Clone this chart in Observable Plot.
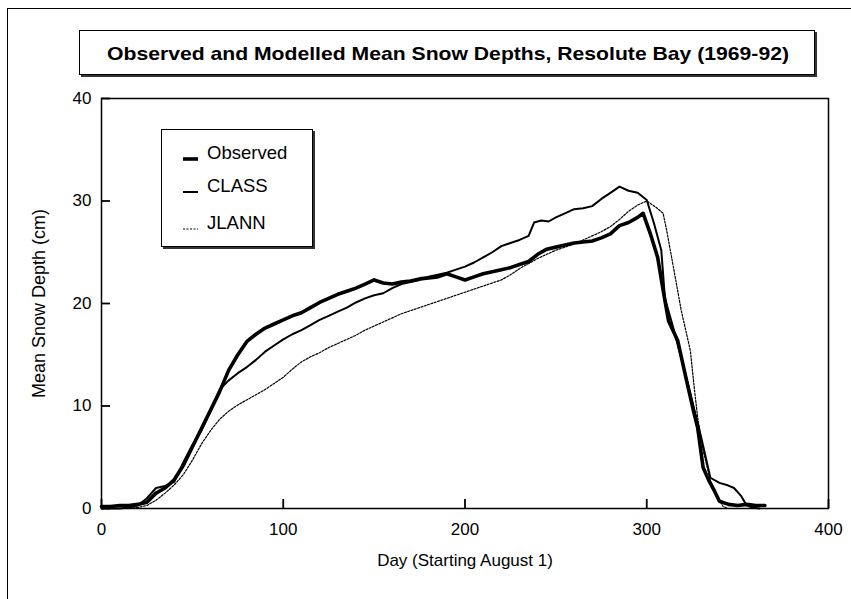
<!DOCTYPE html>
<html><head><meta charset="utf-8">
<script src="https://cdn.jsdelivr.net/npm/d3@7"></script>
<script src="https://cdn.jsdelivr.net/npm/@observablehq/plot@0.6"></script>
<style>
body{margin:0;background:#fff;}
#wrap{position:relative;width:851px;height:599px;overflow:hidden;font-family:"Liberation Sans",Arial,sans-serif;color:#000;}
#chart{position:absolute;left:0;top:0;}
#outer{position:absolute;left:7px;top:8px;width:900px;height:700px;border:1.5px solid #000;pointer-events:none;}
#title{position:absolute;left:79px;top:30px;width:734px;height:43px;border:1px solid #000;box-shadow:2px 2px 0 #333;background:#fff;}
#legend{position:absolute;left:161px;top:129px;width:150px;height:116px;border:1px solid #000;box-shadow:2px 2px 0 #333;background:#fff;}
.row{position:absolute;left:0;width:150px;height:22px;}
.row span{position:absolute;left:45px;top:0;font-size:18.5px;line-height:22px;}
.row svg{position:absolute;left:21px;top:0;}
</style>
</head><body>
<div id="wrap">
  <div id="outer"></div>
  <div id="chart"></div>
  <div id="title"><svg width="734" height="43"><text id="ttext" x="368" y="29" text-anchor="middle" font-family="Liberation Sans, Arial, sans-serif" font-weight="bold" font-size="19" textLength="682" lengthAdjust="spacingAndGlyphs"></text></svg></div>
  <div id="legend"></div>
</div>
<script>
const titleText = "Observed and Modelled Mean Snow Depths, Resolute Bay (1969-92)";
const xLabel = "Day (Starting August 1)";
const yLabel = "Mean Snow Depth (cm)";
const xTicks = [0, 100, 200, 300, 400];
const yTicks = [0, 10, 20, 30, 40];
const seriesNames = ["Observed", "CLASS", "JLANN"];

const observedDay = [0,5,10,15,20,25,30,35,40,45,50,55,60,65,70,75,80,85,90,95,100,105,110,115,120,125,130,135,140,145,150,155,160,165,170,175,180,185,190,195,200,205,210,215,220,225,230,235,240,245,250,255,260,265,270,275,280,285,290,295,298,302,306,309,312,317,322,326,328,331,334,337,340,345,350,355,360,365];
const observedDepth = [0.2,0.2,0.3,0.3,0.4,0.6,1.5,2.0,2.8,4.2,6.0,7.8,9.6,11.4,13.5,15.0,16.3,17.0,17.6,18.0,18.4,18.8,19.1,19.6,20.1,20.5,20.9,21.2,21.5,21.9,22.3,22.0,21.9,22.1,22.2,22.4,22.5,22.6,22.9,22.6,22.3,22.6,22.9,23.1,23.3,23.5,23.8,24.1,24.8,25.3,25.5,25.7,25.9,26.0,26.1,26.4,26.8,27.6,27.9,28.4,28.8,26.8,24.5,21.3,18.3,16.4,12.4,9.3,7.9,4.0,2.8,1.8,0.7,0.4,0.3,0.4,0.3,0.3];

const classDay = [0,5,10,15,20,25,30,35,40,45,50,55,60,65,70,75,80,85,90,95,100,105,110,115,120,125,130,135,140,145,150,155,160,165,170,175,180,185,190,195,200,205,210,215,220,225,230,235,238,242,246,250,255,260,265,270,275,280,285,290,295,300,304,308,310,314,319,324,330,335,340,344,348,352,355,358,362];
const classDepth = [0,0,0,0.1,0.3,1.0,2.0,2.2,2.6,4.5,6.2,7.6,9.5,11.6,12.5,13.2,13.8,14.5,15.3,15.9,16.5,17.0,17.4,17.9,18.4,18.8,19.2,19.6,20.1,20.5,20.8,21.0,21.5,21.9,22.1,22.3,22.6,22.8,23.0,23.3,23.6,24.0,24.5,25.0,25.6,25.9,26.2,26.6,27.9,28.1,28.0,28.4,28.8,29.2,29.3,29.5,30.2,30.8,31.4,31.0,30.8,30.1,27.8,25.2,20.5,18.0,14.7,11.2,6.9,3.0,2.5,2.3,2.0,1.2,0.3,0.1,0];

const jlannDay = [0,10,20,25,30,35,40,45,50,55,60,65,70,75,80,85,90,95,100,105,110,115,120,125,130,135,140,145,150,155,160,165,170,175,180,185,190,195,200,205,210,215,220,225,230,235,240,245,250,255,260,265,270,275,280,285,290,295,300,305,309,311,314,319,324,326,328,331,335,339,342,345];
const jlannDepth = [0,0,0.1,0.3,0.8,1.5,2.3,3.3,4.7,6.3,7.6,8.7,9.5,10.1,10.6,11.1,11.6,12.2,12.8,13.6,14.3,14.8,15.2,15.7,16.1,16.5,16.9,17.4,17.8,18.2,18.6,19.0,19.3,19.6,19.9,20.2,20.5,20.8,21.1,21.4,21.7,22.0,22.3,22.8,23.4,23.9,24.4,24.8,25.2,25.5,25.8,26.2,26.6,27.0,27.5,28.2,29.0,29.6,30.0,29.4,28.8,27.1,24.2,19.3,15.4,12.0,8.9,5.7,2.7,1.1,0.2,0];

const toRows = (days, vals) => days.map((d, i) => ({day: d, depth: vals[i]}));
const observed = toRows(observedDay, observedDepth);
const classRows = toRows(classDay, classDepth);
const jlann = toRows(jlannDay, jlannDepth);

const styles = {
  Observed: {strokeWidth: 3.6, dash: null},
  CLASS: {strokeWidth: 2, dash: null},
  JLANN: {strokeWidth: 1.2, dash: "2,1.5"}
};

const W = 851, H = 599, mL = 101, mR = 23, mT = 98, mB = 91, tickLen = 9;
const innerW = W - mL - mR, innerH = H - mT - mB;

const plot = Plot.plot({
  width: W,
  height: H,
  marginLeft: mL,
  marginRight: mR,
  marginTop: mT,
  marginBottom: mB,
  style: {fontFamily: "Liberation Sans, Arial, sans-serif", fontSize: "17px", background: "transparent", color: "#000"},
  x: {domain: [0, 400]},
  y: {domain: [0, 40]},
  marks: [
    Plot.line(jlann, {x: "day", y: "depth", stroke: "#000", strokeWidth: styles.JLANN.strokeWidth, strokeDasharray: styles.JLANN.dash}),
    Plot.line(classRows, {x: "day", y: "depth", stroke: "#000", strokeWidth: styles.CLASS.strokeWidth, strokeLinejoin: "round"}),
    Plot.line(observed, {x: "day", y: "depth", stroke: "#000", strokeWidth: styles.Observed.strokeWidth, strokeLinejoin: "round"}),
    Plot.frame({stroke: "#000", strokeWidth: 1.5}),
    Plot.tickX(xTicks, {x: d => d, insetTop: innerH - tickLen, stroke: "#000", strokeWidth: 1.8}),
    Plot.tickY(yTicks, {y: d => d, insetRight: innerW - tickLen, stroke: "#000", strokeWidth: 1.8}),
    Plot.axisX(xTicks, {tickSize: 0, tickPadding: 14, fontSize: 17, label: null}),
    Plot.axisY(yTicks, {tickSize: 0, tickPadding: 10, fontSize: 17, label: null}),
    Plot.axisX({ticks: [], tickSize: 0, fontSize: 17, label: xLabel, labelAnchor: "center", labelOffset: 57, labelArrow: "none"}),
    Plot.axisY({ticks: [], tickSize: 0, fontSize: 18, label: yLabel, labelAnchor: "center", labelOffset: 69, labelArrow: "none"})
  ]
});
document.getElementById("chart").appendChild(plot);
document.getElementById("ttext").textContent = titleText;

// legend
const legend = document.getElementById("legend");
const rowTops = [12, 45, 82];
seriesNames.forEach((name, i) => {
  const row = document.createElement("div");
  row.className = "row";
  row.style.top = rowTops[i] + "px";
  const st = styles[name];
  row.innerHTML = `<svg width="18" height="22"><line x1="0" x2="15" y1="17" y2="17" stroke="#000" stroke-width="${st.strokeWidth}" ${st.dash ? `stroke-dasharray="${st.dash}"` : ""}/></svg><span>${name}</span>`;
  legend.appendChild(row);
});
</script>
</body></html>
